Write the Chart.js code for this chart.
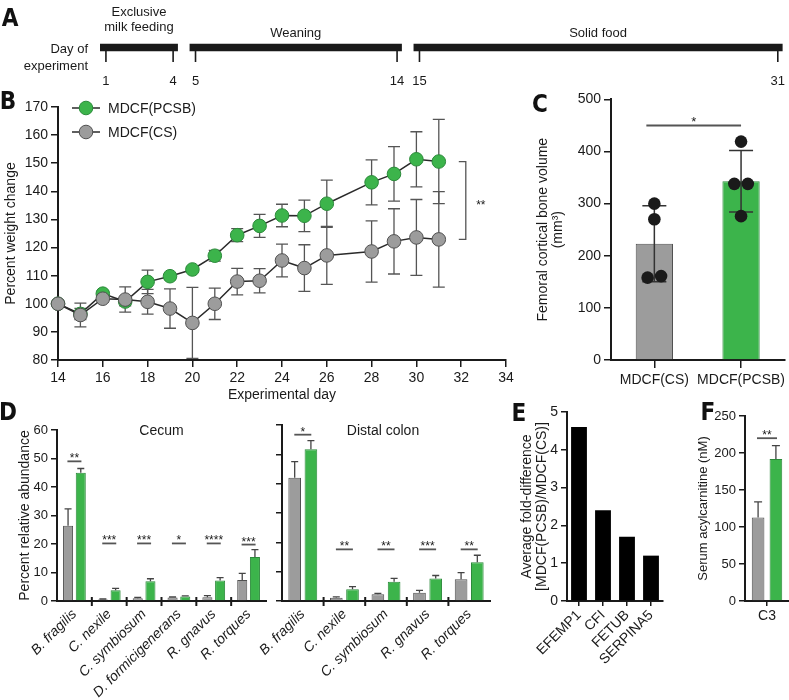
<!DOCTYPE html>
<html lang="en">
<head>
<meta charset="utf-8">
<title>MDCF(PCSB) vs MDCF(CS)</title>
<script src="https://cdn.jsdelivr.net/npm/chart.js@4.4.1/dist/chart.umd.min.js"></script>
<style>
  html, body { margin:0; padding:0; background:#ffffff; }
  #fig { position:relative; width:789px; height:700px; overflow:hidden; background:#ffffff; }
  #fig canvas { position:absolute; }
  .panel { position:absolute; font-family:"Liberation Sans Narrow","DejaVu Sans Condensed","Liberation Sans",sans-serif;
           font-weight:bold; font-size:24px; line-height:24px; color:#111; transform:translate(-50%,-50%); }
</style>
</head>
<body>
<div id="fig">
  <canvas id="cA" width="789" height="92" style="left:0px;top:0px"></canvas>
  <canvas id="cB" width="560" height="320" style="left:0px;top:88px"></canvas>
  <canvas id="cC" width="269" height="320" style="left:520px;top:88px"></canvas>
  <canvas id="cD1" width="272" height="300" style="left:0px;top:400px"></canvas>
  <canvas id="cD2" width="250" height="300" style="left:250px;top:400px"></canvas>
  <canvas id="cE" width="190" height="300" style="left:500px;top:400px"></canvas>
  <canvas id="cF" width="99" height="300" style="left:690px;top:400px"></canvas>
  <div class="panel" style="left:10px;top:18px">A</div>
  <div class="panel" style="left:8px;top:101px">B</div>
  <div class="panel" style="left:540px;top:104px">C</div>
  <div class="panel" style="left:8px;top:412px">D</div>
  <div class="panel" style="left:519px;top:413px">E</div>
  <div class="panel" style="left:708px;top:412px">F</div>
</div>
<script>
// ---------------- DATA ----------------
// Panel A: timeline
const phaseNames = ['Exclusive milk feeding', 'Weaning', 'Solid food'];
const phaseStart = [1, 5, 15];
const phaseEnd = [4, 14, 31];

// Panel B: percent weight change
const days = [14, 15, 16, 17, 18, 19, 20, 21, 22, 23, 24, 25, 26, 28, 29, 30, 31];
const weightPCSB    = [100, 96.4, 103.6, 100.8, 107.8, 109.8, 112.2, 117.1, 124.4, 127.7, 131.4, 131.3, 135.6, 143.2, 146.2, 151.4, 150.6];
const weightPCSBErr = [0, 2.0, 1.0, 1.5, 4.2, 1.0, 1.0, 1.9, 2.3, 4.1, 4.0, 5.6, 8.4, 8.0, 9.7, 9.8, 15.0];
const weightCS      = [100, 96.0, 101.8, 101.5, 100.7, 98.3, 93.2, 100.0, 107.9, 108.2, 115.4, 112.7, 117.2, 118.6, 122.2, 123.6, 122.9];
const weightCSErr   = [0, 4.2, 1.2, 4.5, 4.4, 7.0, 12.6, 5.6, 4.7, 4.3, 5.8, 8.3, 10.3, 10.9, 11.6, 13.5, 17.0];
const weightTicksX = [14, 34, 2];

// Panel C: femoral cortical bone volume
const boneGroups = ['MDCF(CS)', 'MDCF(PCSB)'];
const boneMean = [223, 343];
const boneSD = [73, 59];
const bonePointsCS = [300, 270, 158, 161];
const bonePointsPCSB = [419, 338, 338, 276];
const boneSig = ['*'];
const boneSigLevel = [450];

// Panel D: percent relative abundance
const cecumTaxa = ['B. fragilis', 'C. nexile', 'C. symbiosum', 'D. formicigenerans', 'R. gnavus', 'R. torques'];
const cecumCS = [26.4, 0.5, 1.0, 1.2, 1.3, 7.4];
const cecumCSErr = [5.9, 0.2, 0.3, 0.2, 0.6, 2.3];
const cecumPCSB = [45.0, 3.8, 6.9, 1.6, 7.2, 15.4];
const cecumPCSBErr = [1.5, 0.6, 0.9, 0.2, 1.0, 2.6];
const cecumSig = ['**', '***', '***', '*', '****', '***'];
const cecumSigLevel = [49, 20.2, 20.2, 20.2, 20.2, 19.8];

const colonTaxa = ['B. fragilis', 'C. nexile', 'C. symbiosum', 'R. gnavus', 'R. torques'];
const colonCS = [42.0, 1.1, 2.3, 2.8, 7.4];
const colonCSErr = [5.5, 0.3, 0.3, 0.8, 2.3];
const colonPCSB = [51.7, 4.0, 6.6, 7.7, 13.2];
const colonPCSBErr = [3.0, 0.9, 1.1, 1.0, 2.4];
const colonSig = ['*', '**', '**', '***', '**'];
const colonSigLevel = [56.7, 17.6, 17.6, 17.6, 17.6];

// Panel E: average fold-difference
const proteins = ['EFEMP1', 'CFI', 'FETUB', 'SERPINA5'];
const foldDiff = [4.6, 2.4, 1.7, 1.2];

// Panel F: serum acylcarnitine
const acylLabels = ['C3'];
const acylCS = [113];
const acylCSErr = [21];
const acylPCSB = [192];
const acylPCSBErr = [18];
const acylSig = ['**'];
const acylSigLevel = [220];

// ---------------- STYLE ----------------
const GREEN = '#3cb44b', GREEN_EDGE = '#2b8a3a', GRAY = '#9c9c9c', GRAY_EDGE = '#505050';
const INK = '#1a1a1a', ERR = '#4a4a4a', LINE = '#2a2a2a';
const SANS = '"Liberation Sans", Arial, Helvetica, sans-serif';

Chart.defaults.font.family = SANS;
Chart.defaults.font.size = 14;
Chart.defaults.color = INK;
Chart.defaults.animation = false;
Chart.defaults.responsive = false;
Chart.defaults.plugins.legend.display = false;
Chart.defaults.plugins.tooltip.enabled = false;

function fixSize(px) {
  return (s) => { if (s.isHorizontal()) { s.height = px; } else { s.width = px; } };
}
function yLinear(min, max, step, width, fontSize, title, tickLen) {
  return {
    type: 'linear', min: min, max: max,
    ticks: { stepSize: step, font: { size: fontSize }, padding: 3, color: INK },
    grid: { display: true, drawOnChartArea: false, drawTicks: true, tickLength: tickLen || 6, color: INK, lineWidth: 1.5 },
    border: { display: true, color: INK, width: 2 },
    title: title || { display: false },
    afterFit: fixSize(width)
  };
}

// ---------------- PLUGINS ----------------
function drawErrors(chart, o) {
  const ctx = chart.ctx, ys = chart.scales.y;
  ctx.save();
  ctx.strokeStyle = o.color || ERR;
  ctx.lineWidth = o.width || 1.2;
  chart.data.datasets.forEach((ds, di) => {
    if (!ds.errors) return;
    const meta = chart.getDatasetMeta(di);
    meta.data.forEach((el, i) => {
      const raw = ds.data[i];
      const v = (raw !== null && typeof raw === 'object') ? raw.y : raw;
      const e = ds.errors[i];
      if (!e) return;
      const x = el.x;
      const top = ys.getPixelForValue(v + e);
      const bot = ys.getPixelForValue(o.mode === 'up' ? v : v - e);
      ctx.beginPath();
      ctx.moveTo(x, top); ctx.lineTo(x, bot);
      ctx.moveTo(x - o.cap, top); ctx.lineTo(x + o.cap, top);
      if (o.mode !== 'up') { ctx.moveTo(x - o.cap, bot); ctx.lineTo(x + o.cap, bot); }
      ctx.stroke();
    });
  });
  ctx.restore();
}
const errorBars = {
  id: 'errorBars',
  beforeDatasetsDraw(chart, args, o) { if (o.phase === 'before') drawErrors(chart, o); },
  afterDatasetsDraw(chart, args, o) { if (o.phase !== 'before') drawErrors(chart, o); }
};

const sigMarks = {
  id: 'sigMarks',
  afterDatasetsDraw(chart, args, o) {
    if (!o.labels) return;
    const ctx = chart.ctx, xs = chart.scales.x, ys = chart.scales.y;
    ctx.save();
    ctx.strokeStyle = o.color || '#555';
    ctx.lineWidth = o.width || 1.6;
    ctx.fillStyle = INK;
    ctx.font = (o.size || 12) + 'px ' + SANS;
    ctx.textAlign = 'center';
    ctx.textBaseline = 'alphabetic';
    o.labels.forEach((lab, i) => {
      let x0, x1;
      if (o.span) {
        x0 = xs.getPixelForValue(o.span[0]) - (o.inset || 0);
        x1 = xs.getPixelForValue(o.span[1]);
      } else {
        const c = xs.getPixelForValue(i);
        x0 = c - o.half; x1 = c + o.half;
      }
      const y = ys.getPixelForValue(o.levels[i]);
      ctx.beginPath(); ctx.moveTo(x0, y); ctx.lineTo(x1, y); ctx.stroke();
      ctx.fillText(lab, (x0 + x1) / 2, y + (o.lift === undefined ? 1 : o.lift));
    });
    ctx.restore();
  }
};

const separators = {
  id: 'separators',
  afterDraw(chart, args, o) {
    if (!o.on) return;
    const ctx = chart.ctx, xs = chart.scales.x, b = chart.chartArea.bottom;
    ctx.save();
    ctx.strokeStyle = INK; ctx.lineWidth = 2;
    for (let i = 1; i < chart.data.labels.length; i++) {
      const x = (xs.getPixelForValue(i - 1) + xs.getPixelForValue(i)) / 2;
      ctx.beginPath(); ctx.moveTo(x, b - 4); ctx.lineTo(x, b + 5); ctx.stroke();
    }
    ctx.restore();
  }
};

const innerTitle = {
  id: 'innerTitle',
  afterDraw(chart, args, o) {
    if (!o.text) return;
    const ctx = chart.ctx, a = chart.chartArea;
    ctx.save();
    ctx.fillStyle = INK; ctx.font = '14px ' + SANS;
    ctx.textAlign = 'center'; ctx.textBaseline = 'middle';
    ctx.fillText(o.text, (a.left + a.right) / 2 + (o.dx || 0), a.top + o.dy);
    ctx.restore();
  }
};

function swarm(vals, near, step) {
  const off = vals.map(() => 0);
  const idx = vals.map((v, i) => i).sort((a, b) => vals[a] - vals[b]);
  const groups = [];
  let cur = [idx[0]];
  for (let k = 1; k < idx.length; k++) {
    if (vals[idx[k]] - vals[cur[cur.length - 1]] < near) cur.push(idx[k]);
    else { groups.push(cur); cur = [idx[k]]; }
  }
  groups.push(cur);
  groups.forEach(g => g.forEach((j, n) => { off[j] = (n - (g.length - 1) / 2) * step; }));
  return off;
}
const dotPlot = {
  id: 'dotPlot',
  afterDatasetsDraw(chart, args, o) {
    const ds = chart.data.datasets[0];
    if (!ds.points) return;
    const ctx = chart.ctx, xs = chart.scales.x, ys = chart.scales.y;
    ctx.save();
    ctx.fillStyle = INK;
    ds.points.forEach((pts, i) => {
      const offs = swarm(pts, o.near, o.step);
      const cx = xs.getPixelForValue(i);
      pts.forEach((v, k) => {
        ctx.beginPath();
        ctx.arc(cx + offs[k], ys.getPixelForValue(v), o.r, 0, Math.PI * 2);
        ctx.fill();
      });
    });
    ctx.restore();
  }
};

const lineLegend = {
  id: 'lineLegend',
  afterDraw(chart, args, o) {
    const ctx = chart.ctx;
    ctx.save();
    chart.data.datasets.forEach((ds, i) => {
      const y = o.y0 + i * o.dy;
      ctx.strokeStyle = ds.borderColor; ctx.lineWidth = ds.borderWidth;
      ctx.beginPath(); ctx.moveTo(o.x0, y); ctx.lineTo(o.x0 + o.len, y); ctx.stroke();
      ctx.beginPath(); ctx.arc(o.x0 + o.len / 2, y, ds.pointRadius, 0, Math.PI * 2);
      ctx.fillStyle = ds.pointBackgroundColor; ctx.fill();
      ctx.strokeStyle = ds.pointBorderColor; ctx.lineWidth = 1; ctx.stroke();
      ctx.fillStyle = INK; ctx.font = '14px ' + SANS;
      ctx.textAlign = 'left'; ctx.textBaseline = 'middle';
      ctx.fillText(ds.label, o.x0 + o.len + 8, y + 1);
    });
    ctx.restore();
  }
};

const bracket = {
  id: 'bracket',
  afterDatasetsDraw(chart, args, o) {
    const ctx = chart.ctx, xs = chart.scales.x, ys = chart.scales.y, n = days.length;
    const xv = xs.getPixelForValue(days[n - 1]) + o.dx;
    const yA = ys.getPixelForValue(weightPCSB[n - 1]);
    const yB = ys.getPixelForValue(weightCS[n - 1]);
    ctx.save();
    ctx.strokeStyle = '#555'; ctx.lineWidth = 1.3;
    ctx.beginPath();
    ctx.moveTo(xv - o.tick, yA); ctx.lineTo(xv, yA); ctx.lineTo(xv, yB); ctx.lineTo(xv - o.tick, yB);
    ctx.stroke();
    ctx.fillStyle = INK; ctx.font = '12px ' + SANS;
    ctx.textAlign = 'center'; ctx.textBaseline = 'middle';
    ctx.fillText(o.label, xv + o.textDx, (yA + yB) / 2 + 5);
    ctx.restore();
  }
};

function splitBalanced(ctx, text, maxW) {
  if (ctx.measureText(text).width <= maxW) return [text];
  const words = text.split(' ');
  let best = null, bestW = Infinity;
  for (let k = 1; k < words.length; k++) {
    const a = words.slice(0, k).join(' '), b = words.slice(k).join(' ');
    const w = Math.max(ctx.measureText(a).width, ctx.measureText(b).width);
    if (w < bestW) { bestW = w; best = [a, b]; }
  }
  return best || [text];
}
const timeline = {
  id: 'timeline',
  afterDatasetsDraw(chart, args, o) {
    const ctx = chart.ctx, xs = chart.scales.x;
    ctx.save();
    ctx.strokeStyle = INK; ctx.fillStyle = INK; ctx.lineWidth = 1.6;
    ctx.font = '13px ' + SANS;
    ctx.textBaseline = 'middle';
    ctx.textAlign = 'right';
    ctx.fillText('Day of', 88, 49);
    ctx.fillText('experiment', 88, 66);
    ctx.textAlign = 'center';
    phaseNames.forEach((name, i) => {
      [phaseStart[i], phaseEnd[i]].forEach(d => {
        const px = xs.getPixelForValue(d);
        ctx.beginPath(); ctx.moveTo(px, o.barBottom); ctx.lineTo(px, o.tickEnd); ctx.stroke();
        ctx.fillText(String(d), px, o.numY);
      });
      const x0 = xs.getPixelForValue(phaseStart[i] - o.padBefore);
      const x1 = xs.getPixelForValue(phaseEnd[i] + o.padAfter);
      const lines = splitBalanced(ctx, name, x1 - x0 - 4);
      if (lines.length === 1) ctx.fillText(lines[0], (x0 + x1) / 2, o.nameY);
      else lines.forEach((ln, k) => ctx.fillText(ln, (x0 + x1) / 2, o.nameY - 21 + k * 15));
    });
    ctx.restore();
  }
};

// ---------------- PANEL A ----------------
const PAD_BEFORE = 0.25, PAD_AFTER = 0.2;
new Chart(document.getElementById('cA'), {
  type: 'bar',
  data: {
    labels: ['Day of experiment'],
    datasets: phaseNames.map((n, i) => ({
      label: n,
      data: [[phaseStart[i] - PAD_BEFORE, phaseEnd[i] + PAD_AFTER]],
      backgroundColor: INK, borderWidth: 0, barThickness: 7, grouped: false
    }))
  },
  options: {
    indexAxis: 'y',
    layout: { padding: { top: 40, bottom: 37, left: 0, right: 0 } },
    scales: {
      x: { type: 'linear', display: false, min: -3.73, max: 31.5 },
      y: { display: false }
    },
    plugins: { timeline: { barBottom: 51, tickEnd: 62, numY: 81, nameY: 33, padBefore: PAD_BEFORE, padAfter: PAD_AFTER } }
  },
  plugins: [timeline]
});

// ---------------- PANEL B ----------------
new Chart(document.getElementById('cB'), {
  type: 'line',
  data: {
    datasets: [
      { label: 'MDCF(PCSB)', data: days.map((d, i) => ({ x: d, y: weightPCSB[i] })), errors: weightPCSBErr, order: 2,
        borderColor: LINE, borderWidth: 1.5, pointRadius: 6.8, pointBackgroundColor: GREEN, pointBorderColor: GREEN_EDGE,
        pointBorderWidth: 1, tension: 0, clip: false },
      { label: 'MDCF(CS)', data: days.map((d, i) => ({ x: d, y: weightCS[i] })), errors: weightCSErr, order: 1,
        borderColor: LINE, borderWidth: 1.5, pointRadius: 6.8, pointBackgroundColor: GRAY, pointBorderColor: GRAY_EDGE,
        pointBorderWidth: 1, tension: 0, clip: false }
    ]
  },
  options: {
    layout: { padding: { top: 19, right: 54, left: 0, bottom: 0 } },
    scales: {
      x: {
        type: 'linear', min: weightTicksX[0], max: weightTicksX[1],
        ticks: { stepSize: weightTicksX[2], font: { size: 14 }, padding: 3, color: INK },
        grid: { display: true, drawOnChartArea: false, drawTicks: true, tickLength: 7, color: INK, lineWidth: 1.5 },
        border: { display: true, color: INK, width: 2 },
        title: { display: true, text: 'Experimental day', font: { size: 14 }, padding: { top: 2, bottom: 4 } },
        afterFit: fixSize(48)
      },
      y: yLinear(80, 170, 10, 58, 14, { display: true, text: 'Percent weight change', font: { size: 14 }, padding: { top: 3, bottom: 4 } }, 7)
    },
    plugins: {
      errorBars: { phase: 'before', mode: 'both', color: '#555', width: 1.3, cap: 6 },
      lineLegend: { x0: 72, len: 28, y0: 20, dy: 24 },
      bracket: { dx: 27, tick: 7, textDx: 15, label: '**' }
    }
  },
  plugins: [errorBars, bracket, lineLegend]
});

// ---------------- PANEL C ----------------
new Chart(document.getElementById('cC'), {
  type: 'bar',
  data: {
    labels: boneGroups,
    datasets: [{
      label: 'Femoral cortical bone volume', data: boneMean, errors: boneSD,
      points: [bonePointsCS, bonePointsPCSB],
      backgroundColor: [GRAY, GREEN], borderColor: [GRAY_EDGE, GREEN_EDGE], borderWidth: 1,
      barPercentage: 0.43, categoryPercentage: 1
    }]
  },
  options: {
    layout: { padding: { top: 11, right: 0, left: 0, bottom: 0 } },
    scales: {
      x: {
        ticks: { font: { size: 14 }, padding: 4, color: INK, autoSkip: false, maxRotation: 0 },
        grid: { display: true, offset: false, drawOnChartArea: false, drawTicks: true, tickLength: 8, color: INK, lineWidth: 1.5 },
        border: { display: true, color: INK, width: 2 },
        afterFit: fixSize(48)
      },
      y: yLinear(0, 500, 100, 91, 14, { display: true, text: ['Femoral cortical bone volume', '(mm\u00B3)'],
        font: { size: 14, lineHeight: 1.1 }, padding: { top: 15, bottom: 4 } }, 7)
    },
    plugins: {
      errorBars: { phase: 'after', mode: 'both', color: '#333', width: 1.5, cap: 12 },
      dotPlot: { r: 6.3, near: 15, step: 13.5 },
      sigMarks: { labels: boneSig, levels: boneSigLevel, span: [0, 1], inset: 8, color: '#555', width: 2, size: 13, lift: 1 }
    }
  },
  plugins: [errorBars, dotPlot, sigMarks]
});

// ---------------- PANEL D ----------------
function abundanceChart(id, taxa, cs, csErr, pcsb, pcsbErr, sig, sigLevel, opt) {
  return new Chart(document.getElementById(id), {
    type: 'bar',
    data: {
      labels: taxa,
      datasets: [
        { label: 'MDCF(CS)', data: cs, errors: csErr, backgroundColor: GRAY, borderColor: GRAY_EDGE, borderWidth: 1,
          categoryPercentage: opt.catPct, barPercentage: opt.barPct },
        { label: 'MDCF(PCSB)', data: pcsb, errors: pcsbErr, backgroundColor: GREEN, borderColor: GREEN_EDGE, borderWidth: 1,
          categoryPercentage: opt.catPct, barPercentage: opt.barPct }
      ]
    },
    options: {
      layout: { padding: { top: opt.top, right: opt.right, left: 0, bottom: 0 } },
      scales: {
        x: {
          ticks: { font: { size: 14, style: 'italic' }, minRotation: 45, maxRotation: 45, autoSkip: false, padding: 2, color: INK },
          grid: { display: false, drawTicks: true, tickLength: 3 },
          border: { display: true, color: INK, width: 2 },
          afterFit: fixSize(99)
        },
        y: Object.assign(yLinear(0, 60, 10, opt.yWidth, 13, opt.yTitle, 6),
          opt.hideYLabels ? { ticks: { display: false, stepSize: 10 } } : {})
      },
      plugins: {
        errorBars: { phase: 'after', mode: 'up', color: '#444', width: 1.3, cap: 3.5 },
        sigMarks: { labels: sig, levels: sigLevel, half: opt.sigHalf, color: '#555', width: 1.8, size: 12, lift: 1 },
        separators: { on: true },
        innerTitle: { text: opt.title, dy: opt.titleDy, dx: opt.titleDx || 0 }
      }
    },
    plugins: [errorBars, sigMarks, separators, innerTitle]
  });
}
abundanceChart('cD1', cecumTaxa, cecumCS, cecumCSErr, cecumPCSB, cecumPCSBErr, cecumSig, cecumSigLevel, {
  catPct: 0.73, barPct: 0.79, top: 30, right: 6, yWidth: 57, sigHalf: 7, title: 'Cecum', titleDy: 1,
  yTitle: { display: true, text: 'Percent relative abundance', font: { size: 14 }, padding: { top: 17, bottom: 4 } }
});
abundanceChart('cD2', colonTaxa, colonCS, colonCSErr, colonPCSB, colonPCSBErr, colonSig, colonSigLevel, {
  catPct: 0.78, barPct: 0.78, top: 25, right: 10, yWidth: 32, sigHalf: 8.5, title: 'Distal colon', titleDy: 6, titleDx: -3,
  hideYLabels: true, yTitle: { display: false }
});

// ---------------- PANEL E ----------------
new Chart(document.getElementById('cE'), {
  type: 'bar',
  data: {
    labels: proteins,
    datasets: [{ label: 'Average fold-difference', data: foldDiff, backgroundColor: '#000000', borderWidth: 0,
      barPercentage: 0.66, categoryPercentage: 1 }]
  },
  options: {
    layout: { padding: { top: 12, right: 27, left: 0, bottom: 0 } },
    scales: {
      x: {
        ticks: { font: { size: 14 }, minRotation: 45, maxRotation: 45, autoSkip: false, padding: 1, color: INK },
        grid: { display: true, offset: false, drawOnChartArea: false, drawTicks: true, tickLength: 5, color: INK, lineWidth: 1.5 },
        border: { display: true, color: INK, width: 2 },
        afterFit: fixSize(99)
      },
      y: yLinear(0, 5, 1, 67, 14, { display: true, text: ['Average fold-difference', '[MDCF(PCSB)/MDCF(CS)]'],
        font: { size: 14, lineHeight: 1.1 }, padding: { top: 19, bottom: 4 } }, 6)
    }
  }
});

// ---------------- PANEL F ----------------
new Chart(document.getElementById('cF'), {
  type: 'bar',
  data: {
    labels: acylLabels,
    datasets: [
      { label: 'MDCF(CS)', data: acylCS, errors: acylCSErr, backgroundColor: GRAY, borderColor: GRAY_EDGE, borderWidth: 1,
        categoryPercentage: 0.81, barPercentage: 0.71 },
      { label: 'MDCF(PCSB)', data: acylPCSB, errors: acylPCSBErr, backgroundColor: GREEN, borderColor: GREEN_EDGE, borderWidth: 1,
        categoryPercentage: 0.81, barPercentage: 0.71 }
    ]
  },
  options: {
    layout: { padding: { top: 16, right: 0, left: 0, bottom: 0 } },
    scales: {
      x: {
        ticks: { font: { size: 14 }, maxRotation: 0, autoSkip: false, padding: 2, color: INK },
        grid: { display: true, offset: false, drawOnChartArea: false, drawTicks: true, tickLength: 5, color: INK, lineWidth: 1.5 },
        border: { display: true, color: INK, width: 2 },
        afterFit: fixSize(99)
      },
      y: yLinear(0, 250, 50, 55, 13, { display: true, text: 'Serum acylcarnitine (nM)', font: { size: 13 }, padding: { top: 6, bottom: 4 } }, 6)
    },
    plugins: {
      errorBars: { phase: 'after', mode: 'up', color: '#444', width: 1.3, cap: 4 },
      sigMarks: { labels: acylSig, levels: acylSigLevel, half: 10, color: '#555', width: 1.8, size: 12, lift: 1 }
    }
  },
  plugins: [errorBars, sigMarks]
});
</script>
</body>
</html>
